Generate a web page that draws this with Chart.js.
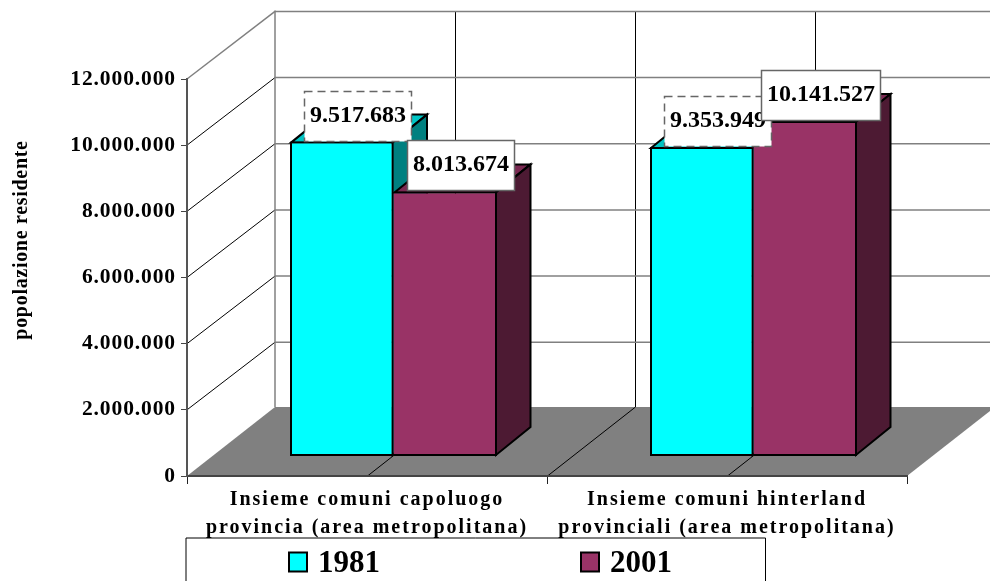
<!DOCTYPE html>
<html><head><meta charset="utf-8">
<style>html,body{margin:0;padding:0;background:#fff}canvas{display:block}</style>
<script src="https://cdn.jsdelivr.net/npm/chart.js@4"></script>
</head><body><canvas id="c" width="990" height="581"></canvas>
<script>
const categories = [
  ['Insieme comuni capoluogo', 'provincia (area metropolitana)'],
  ['Insieme comuni hinterland', 'provinciali (area metropolitana)']
];
const seriesNames = ['1981', '2001'];
const values1981 = [9517683, 9353949];
const values2001 = [8013674, 10141527];
const yTickMax = 12000000;
const yTickStep = 2000000;
const axisTitle = 'popolazione residente';

const frontColors = ['#00FFFF', '#993366'];
const topColors = ['#00C4C4', '#7A2952'];
const sideColors = ['#008080', '#4D1A33'];
const SERIF = '"Liberation Serif", "Times New Roman", serif';
const fmt = v => String(v).replace(/\B(?=(\d{3})+(?!\d))/g, '.');

const WALL = {dx: 88, dy: -67.6, floorDy: -69};
const BAR_SHIFT = {dx: 26.5, dy: -19.5};
const BAR_DEPTH = {dx: 34.5, dy: -28};
const GRAY = '#808080';

function poly(ctx, pts) {
  ctx.beginPath();
  pts.forEach((p, i) => i ? ctx.lineTo(p[0], p[1]) : ctx.moveTo(p[0], p[1]));
  ctx.closePath();
}
function seg(ctx, x1, y1, x2, y2, color, w) {
  ctx.strokeStyle = color; ctx.lineWidth = w;
  ctx.beginPath(); ctx.moveTo(x1, y1); ctx.lineTo(x2, y2); ctx.stroke();
}
function spaced(scale, amount) {
  if (scale._spaced) return;
  scale._spaced = true;
  const orig = scale.drawLabels;
  scale.drawLabels = function (area) {
    this.ctx.save();
    this.ctx.letterSpacing = amount;
    orig.call(this, area);
    this.ctx.restore();
  };
}

const scene3d = {
  id: 'scene3d',
  beforeDraw(chart) {
    const {ctx, chartArea: a, scales: {x, y}} = chart;
    const D = WALL, wallR = a.right + D.dx;
    const floorY = a.bottom + D.floorDy;
    ctx.save();
    ctx.fillStyle = '#fff';
    ctx.fillRect(0, 0, chart.width, chart.height);
    // floor
    poly(ctx, [[a.left, a.bottom], [a.right, a.bottom], [wallR, floorY], [a.left + D.dx, floorY]]);
    ctx.fillStyle = GRAY; ctx.fill();
    // back-wall verticals and floor lines, one per half category
    const n = x.ticks.length;
    for (let i = 1; i < n * 2; i++) {
      const px = a.left + (a.right - a.left) * i / (n * 2);
      seg(ctx, px + .5, a.bottom, px + .5 + D.dx, floorY, '#000', 1);
      seg(ctx, px + .5 + D.dx, floorY, px + .5 + D.dx, a.top + D.dy, '#000', 1);
    }
    // wall grid
    y.ticks.forEach(t => {
      const py = y.getPixelForValue(t.value);
      const isTop = t.value === yTickMax;
      if (t.value !== 0) {
        seg(ctx, a.left, py, a.left + D.dx, py + D.dy, isTop ? GRAY : '#000', isTop ? 1.5 : 1);
        seg(ctx, a.left + D.dx, py + D.dy, wallR, py + D.dy, GRAY, 1.5);
      }
    });
    seg(ctx, a.left + D.dx, a.top + D.dy - 1, a.left + D.dx, floorY, GRAY, 1.5);
    ctx.restore();
  },
  beforeDatasetsDraw(chart) {
    const ctx = chart.ctx, S = BAR_SHIFT, D = BAR_DEPTH;
    ctx.save();
    ctx.translate(S.dx, S.dy);
    [0, 1].forEach(i => {
      const meta = chart.getDatasetMeta(i);
      meta.data.forEach(bar => {
        const l = bar.x - bar.width / 2, r = bar.x + bar.width / 2, t = bar.y, b = bar.base;
        ctx.lineWidth = 2; ctx.strokeStyle = '#000'; ctx.lineJoin = 'miter';
        poly(ctx, [[l + 1, t + 1], [r - 1, t + 1], [r - 1 + D.dx, t + 1 + D.dy], [l + 1 + D.dx, t + 1 + D.dy]]);
        ctx.fillStyle = topColors[i]; ctx.fill(); ctx.stroke();
        poly(ctx, [[r - 1, t + 1], [r - 1 + D.dx, t + 1 + D.dy], [r - 1 + D.dx, b - 1 + D.dy], [r - 1, b - 1]]);
        ctx.fillStyle = sideColors[i]; ctx.fill(); ctx.stroke();
        bar.draw(ctx, chart.chartArea);
      });
    });
    ctx.restore();
    return false;
  },
  afterDraw(chart) {
    const {ctx} = chart, S = BAR_SHIFT;
    ctx.save();
    // data labels
    ctx.font = 'bold 24px ' + SERIF;
    ctx.textBaseline = 'alphabetic';
    ctx.textAlign = 'left';
    const boxes = [];
    categories.forEach((_, ci) => [0, 1].forEach(si => {
      const bar = chart.getDatasetMeta(si).data[ci];
      const v = chart.data.datasets[si].data[ci];
      boxes.push({bar, si, txt: fmt(v)});
    }));
    boxes.forEach(o => {
      const tw = ctx.measureText(o.txt).width;
      const w = tw + 11, h = 50;
      const cx = o.bar.x + S.dx + 15.5, bottom = o.bar.y + S.dy - 1;
      const x0 = Math.round(cx - w / 2) + .5, y0 = Math.round(bottom - h) + .5;
      ctx.fillStyle = '#fff';
      ctx.fillRect(x0, y0, w, h);
      ctx.strokeStyle = '#666';
      ctx.lineWidth = 1.5;
      ctx.setLineDash(o.si === 0 ? [8, 5] : []);
      ctx.strokeRect(x0, y0, w, h);
      ctx.setLineDash([]);
      ctx.fillStyle = '#000';
      ctx.fillText(o.txt, x0 + 5.5, y0 + h - 19.5);
    });
    // axis title
    ctx.save();
    ctx.translate(27, 240);
    ctx.rotate(-Math.PI / 2);
    ctx.font = 'bold 20px ' + SERIF;
    ctx.textAlign = 'center';
    ctx.textBaseline = 'alphabetic';
    ctx.letterSpacing = '0.7px';
    ctx.fillStyle = '#000';
    ctx.fillText(axisTitle, 0, 0);
    ctx.letterSpacing = '0px';
    ctx.restore();
    // legend
    ctx.fillStyle = '#fff';
    ctx.fillRect(186, 538, 579.5, 50);
    ctx.strokeStyle = '#000'; ctx.lineWidth = 1;
    ctx.beginPath();
    ctx.moveTo(186, 590); ctx.lineTo(186, 538); ctx.lineTo(765.5, 538); ctx.lineTo(765.5, 590);
    ctx.stroke();
    const legendX = [289, 581];
    seriesNames.forEach((name, i) => {
      ctx.fillStyle = frontColors[i];
      ctx.fillRect(legendX[i], 552.5, 18, 19);
      ctx.strokeStyle = '#000'; ctx.lineWidth = 2;
      ctx.strokeRect(legendX[i], 552.5, 18, 19);
      ctx.fillStyle = '#000';
      ctx.font = 'bold 31px ' + SERIF;
      ctx.textAlign = 'left';
      ctx.fillText(name, legendX[i] + 29, 571.5);
    });
    ctx.restore();
  }
};

new Chart(document.getElementById('c'), {
  type: 'bar',
  data: {
    labels: categories,
    datasets: [
      {label: seriesNames[0], data: values1981, backgroundColor: frontColors[0], borderSkipped: false},
      {label: seriesNames[1], data: values2001, backgroundColor: frontColors[1], borderSkipped: 'left'}
    ]
  },
  plugins: [scene3d],
  options: {
    responsive: false,
    animation: false,
    layout: {padding: {left: 0, top: 79, right: 83, bottom: 0}},
    datasets: {bar: {categoryPercentage: 0.575, barPercentage: 1, borderColor: '#000', borderWidth: 2}},
    plugins: {legend: {display: false}, tooltip: {enabled: false}, title: {display: false}},
    scales: {
      x: {
        grid: {drawOnChartArea: false, tickLength: 8, color: '#222', tickWidth: 1},
        border: {color: '#444', width: 2},
        afterFit(s) { s.height = 105; },
        afterUpdate(s) { spaced(s, '2px'); },
        ticks: {
          autoSkip: false, maxRotation: 0, minRotation: 0, padding: 2, color: '#000',
          font: {family: SERIF, weight: 'bold', size: 20, lineHeight: 28 / 20}
        }
      },
      y: {
        min: 0, max: yTickMax,
        grid: {drawOnChartArea: false, tickLength: 6, color: '#444', tickWidth: 1},
        border: {color: '#555', width: 2},
        afterFit(s) { s.width = 187; },
        afterUpdate(s) { spaced(s, '0.9px'); },
        ticks: {
          stepSize: yTickStep, padding: 5, color: '#000',
          callback: v => fmt(v),
          font: {family: SERIF, weight: 'bold', size: 21.5}
        }
      }
    }
  }
});
</script></body></html>
